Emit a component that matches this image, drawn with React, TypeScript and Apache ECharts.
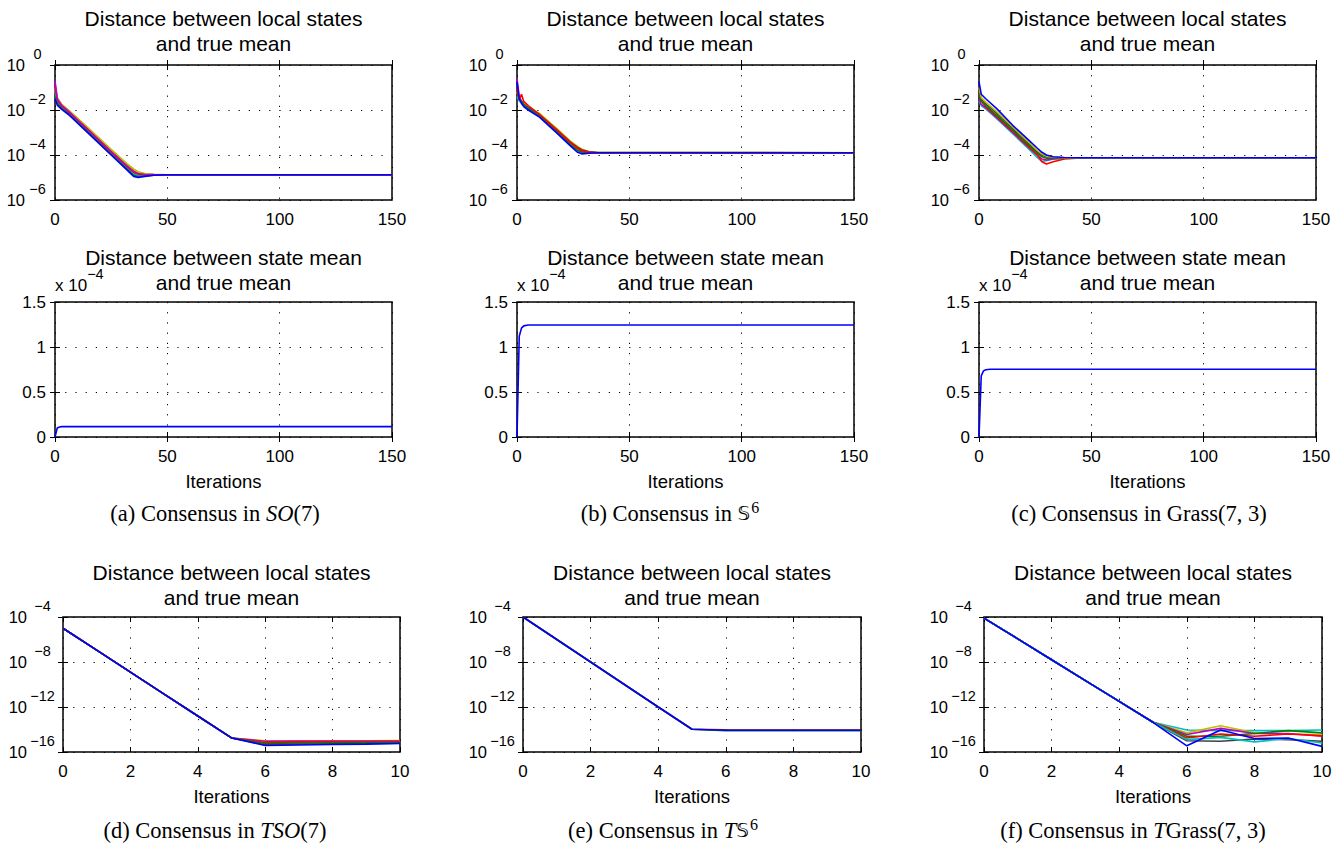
import React, { useEffect, useRef } from "react";
import * as echarts from "echarts";

const W = 1342;
const H = 843;
const SANS = '"Liberation Sans", Arial, Helvetica, sans-serif';
const SERIF = '"Liberation Serif", "Times New Roman", serif';
const BB = '"DejaVu Sans", "DejaVu Serif", "Noto Sans", sans-serif';

// MATLAB default line colours
const COL: Record<string, string> = {
  b: "#0000ff", g: "#008000", r: "#ff0000", c: "#00bfbf",
  m: "#bf00bf", y: "#bfbf00", k: "#404040",
};

// Titles / labels
const TITLE_LOCAL = "Distance between local states\nand true mean";
const TITLE_MEAN = "Distance between state mean\nand true mean";
const X_NAME = "Iterations";

// Axis ranges [min, max, step]
const X_LONG = [0, 150, 50];
const X_SHORT = [0, 10, 2];
const Y_TOP_LOG = [-6, 0, 2]; // exponents of 10
const Y_MID = [0, 1.5, 0.5]; // x 10^-4
const Y_BOT_LOG = [-16, -4, 4]; // exponents of 10

// ---------- (a) SO(7): log10 distance of local states ----------
const ITER_A = [0, 1, 3, 6, 15, 25, 32, 35, 37, 40, 44, 50, 150];
const COLORS_A = ["y", "m", "y", "k", "c", "r", "g", "m", "b"];
const LOCAL_A = [
  [-1.1, -1.5, -1.75, -2.0, -2.82, -3.75, -4.38, -4.62, -4.74, -4.82, -4.86, -4.88, -4.88],
  [-0.7, -1.45, -1.78, -2.03, -2.87, -3.82, -4.46, -4.7, -4.8, -4.85, -4.87, -4.88, -4.88],
  [-1.0, -1.48, -1.76, -2.01, -2.84, -3.78, -4.42, -4.66, -4.77, -4.84, -4.87, -4.88, -4.88],
  [-1.3, -1.6, -1.85, -2.1, -2.95, -3.9, -4.55, -4.8, -4.88, -4.9, -4.89, -4.88, -4.88],
  [-1.2, -1.62, -1.88, -2.12, -2.97, -3.93, -4.58, -4.84, -4.9, -4.9, -4.89, -4.88, -4.88],
  [-0.95, -1.55, -1.82, -2.08, -2.92, -3.87, -4.5, -4.76, -4.85, -4.88, -4.88, -4.88, -4.88],
  [-1.4, -1.7, -1.93, -2.17, -3.02, -3.97, -4.62, -4.9, -4.96, -4.93, -4.9, -4.88, -4.88],
  [-0.85, -1.52, -1.8, -2.06, -2.9, -3.85, -4.48, -4.73, -4.83, -4.87, -4.88, -4.88, -4.88],
  [-1.5, -1.78, -1.97, -2.2, -3.05, -4.0, -4.66, -4.95, -5.0, -4.95, -4.9, -4.88, -4.88],
];

// ---------- (b) S^6 ----------
const ITER_B = [0, 1, 2, 3, 5, 10, 18, 24, 27, 29, 32, 36, 150];
const COLORS_B = ["y", "k", "m", "c", "g", "r", "b"];
const LOCAL_B = [
  [-1.2, -1.5, -1.6, -1.7, -1.85, -2.15, -2.85, -3.4, -3.62, -3.75, -3.85, -3.89, -3.9],
  [-1.3, -1.55, -1.65, -1.75, -1.9, -2.2, -2.9, -3.45, -3.66, -3.78, -3.86, -3.89, -3.9],
  [-0.6, -1.4, -1.6, -1.75, -1.95, -2.25, -2.95, -3.5, -3.72, -3.83, -3.88, -3.9, -3.9],
  [-1.4, -1.6, -1.7, -1.8, -1.97, -2.27, -2.98, -3.53, -3.76, -3.85, -3.89, -3.9, -3.9],
  [-1.1, -1.5, -1.62, -1.78, -1.95, -2.28, -3.0, -3.56, -3.8, -3.88, -3.9, -3.9, -3.9],
  [-1.05, -1.55, -1.3, -1.62, -1.8, -2.2, -2.92, -3.47, -3.7, -3.82, -3.88, -3.9, -3.9],
  [-0.75, -1.5, -1.7, -1.85, -2.0, -2.32, -3.05, -3.62, -3.88, -3.95, -3.92, -3.9, -3.9],
];

// ---------- (c) Grass(7,3) ----------
const ITER_C = [0, 1, 3, 8, 15, 22, 26, 28, 30, 33, 38, 45, 150];
const COLORS_C = ["c", "m", "r", "g", "k", "y", "b"];
const LOCAL_C = [
  [-1.6, -1.8, -1.95, -2.4, -3.05, -3.72, -4.12, -4.28, -4.25, -4.18, -4.14, -4.12, -4.12],
  [-1.5, -1.75, -1.9, -2.35, -3.0, -3.65, -4.02, -4.18, -4.22, -4.18, -4.14, -4.12, -4.12],
  [-1.2, -1.6, -1.85, -2.3, -2.95, -3.62, -4.0, -4.3, -4.4, -4.3, -4.18, -4.13, -4.12],
  [-1.3, -1.6, -1.8, -2.25, -2.9, -3.55, -3.92, -4.08, -4.14, -4.14, -4.13, -4.12, -4.12],
  [-1.1, -1.5, -1.72, -2.15, -2.82, -3.47, -3.85, -4.0, -4.08, -4.11, -4.12, -4.12, -4.12],
  [-1.0, -1.45, -1.65, -2.08, -2.75, -3.42, -3.8, -3.96, -4.05, -4.1, -4.12, -4.12, -4.12],
  [-0.74, -1.3, -1.5, -1.95, -2.68, -3.33, -3.7, -3.88, -4.0, -4.08, -4.11, -4.12, -4.12],
];

// ---------- middle row: state mean vs true mean (x 10^-4) ----------
const ITER_MID = [0, 1, 2, 3, 5, 150];
const MEAN_A = [0, 0.1, 0.112, 0.115, 0.115, 0.115];
const MEAN_B = [0, 1.12, 1.21, 1.235, 1.245, 1.245];
const MEAN_C = [0, 0.68, 0.735, 0.748, 0.752, 0.752];

// ---------- bottom row (tangent bundles), log10 distance ----------
const ITER_T = [0, 1, 2, 3, 4, 5, 6, 7, 8, 9, 10];
const COLORS_D = ["y", "m", "r", "g", "k", "b"];
const LOCAL_D = [
  [-5.0, -6.95, -8.9, -10.85, -12.8, -14.75, -15.0, -15.0, -15.0, -15.0, -14.98],
  [-5.0, -6.95, -8.9, -10.85, -12.8, -14.75, -15.05, -15.03, -15.03, -15.03, -15.02],
  [-5.0, -6.95, -8.9, -10.85, -12.8, -14.75, -15.15, -15.12, -15.1, -15.1, -15.08],
  [-5.0, -6.95, -8.9, -10.85, -12.8, -14.75, -15.25, -15.2, -15.18, -15.16, -15.15],
  [-5.0, -6.95, -8.9, -10.85, -12.8, -14.75, -15.35, -15.3, -15.27, -15.25, -15.22],
  [-5.0, -6.95, -8.9, -10.85, -12.8, -14.75, -15.42, -15.38, -15.34, -15.3, -15.25],
];
const COLORS_E = ["r", "g", "b"];
const LOCAL_E = [
  [-4.0, -6.0, -8.0, -10.0, -12.0, -13.98, -14.02, -14.04, -14.04, -14.04, -14.04],
  [-4.0, -6.0, -8.0, -10.0, -12.0, -13.98, -14.1, -14.1, -14.1, -14.1, -14.1],
  [-4.0, -6.0, -8.0, -10.0, -12.0, -13.98, -14.07, -14.07, -14.07, -14.07, -14.07],
];
const COLORS_F = ["c", "y", "m", "g", "r", "k", "c", "b"];
const LOCAL_F = [
  [-4.1, -5.95, -7.8, -9.65, -11.5, -13.36, -14.05, -14.1, -14.1, -14.1, -14.05],
  [-4.1, -5.95, -7.8, -9.65, -11.5, -13.36, -14.3, -13.66, -14.3, -14.4, -14.45],
  [-4.1, -5.95, -7.8, -9.65, -11.5, -13.36, -14.45, -13.9, -14.35, -14.35, -14.6],
  [-4.1, -5.95, -7.8, -9.65, -11.5, -13.36, -14.6, -14.6, -14.35, -14.1, -14.3],
  [-4.1, -5.95, -7.8, -9.65, -11.5, -13.36, -14.75, -14.4, -14.6, -14.4, -14.55],
  [-4.1, -5.95, -7.8, -9.65, -11.5, -13.36, -15.0, -15.05, -14.85, -14.9, -15.05],
  [-4.1, -5.95, -7.8, -9.65, -11.5, -13.36, -14.9, -14.7, -15.1, -14.8, -15.2],
  [-4.1, -5.95, -7.8, -9.65, -11.5, -13.36, -15.45, -14.05, -14.8, -14.75, -15.5],
];

// Captions
const CAPTIONS: [string, string][][] = [
  [["r", "(a) Consensus in "], ["i", "SO"], ["r", "(7)"]],
  [["r", "(b) Consensus in "], ["bb", "𝕊"], ["sup", "6"]],
  [["r", "(c) Consensus in Grass(7, 3)"]],
  [["r", "(d) Consensus in "], ["i", "TSO"], ["r", "(7)"]],
  [["r", "(e) Consensus in "], ["i", "T"], ["bb", "𝕊"], ["sup", "6"]],
  [["r", "(f) Consensus in "], ["i", "T"], ["r", "Grass(7, 3)"]],
];

// layout: [left, top, width]
const POS: [number, number, number][] = [
  [55, 65, 337], [517, 65, 337], [979, 65, 337],
  [55, 302, 337], [517, 302, 337], [979, 302, 337],
  [63, 617, 337], [523, 617, 338], [984, 617, 338],
];
const PLOT_H = 135;
const CAPTION_POS: [number, number][] = [
  [215, 513], [670, 513], [1139, 513],
  [215, 830], [663, 830], [1133, 830],
];

type Panel = { iters: number[]; lines: number[][]; colors: string[] };
const PANELS: Panel[] = [
  { iters: ITER_A, lines: LOCAL_A, colors: COLORS_A },
  { iters: ITER_B, lines: LOCAL_B, colors: COLORS_B },
  { iters: ITER_C, lines: LOCAL_C, colors: COLORS_C },
  { iters: ITER_MID, lines: [MEAN_A], colors: ["b"] },
  { iters: ITER_MID, lines: [MEAN_B], colors: ["b"] },
  { iters: ITER_MID, lines: [MEAN_C], colors: ["b"] },
  { iters: ITER_T, lines: LOCAL_D, colors: COLORS_D },
  { iters: ITER_T, lines: LOCAL_E, colors: COLORS_E },
  { iters: ITER_T, lines: LOCAL_F, colors: COLORS_F },
];

const logLabel = (v: number) =>
  `{b|10}{s|${v === 0 ? "0" : "\u2212" + Math.abs(Math.round(v))}}`;

function buildOption() {
  const grid: any[] = [];
  const xAxis: any[] = [];
  const yAxis: any[] = [];
  const title: any[] = [];
  const series: any[] = [];
  const tick = { inside: true, length: 5, lineStyle: { color: "#000", width: 1 } };
  const dotted = { show: true, lineStyle: { color: "#000", width: 1, type: [1.2, 9] } };

  POS.forEach(([left, top, width], g) => {
    const row = Math.floor(g / 3);
    grid.push({ left, top, width, height: PLOT_H, show: true, borderColor: "#000", borderWidth: 1.5, backgroundColor: "#fff" });
    const xr = row === 2 ? X_SHORT : X_LONG;
    const yr = row === 0 ? Y_TOP_LOG : row === 1 ? Y_MID : Y_BOT_LOG;
    xAxis.push({
      type: "value", gridIndex: g, min: xr[0], max: xr[1], interval: xr[2],
      axisLine: { show: false }, axisTick: tick,
      axisLabel: { margin: 11, fontSize: 17, color: "#000", fontFamily: SANS },
      splitLine: dotted,
      name: row > 0 ? X_NAME : "", nameLocation: "middle", nameGap: 35,
      nameTextStyle: { fontSize: 18.5, color: "#000", fontFamily: SANS },
    });
    xAxis.push({
      type: "value", gridIndex: g, position: "top", min: xr[0], max: xr[1], interval: xr[2],
      axisLine: { show: false }, axisTick: tick, axisLabel: { show: false }, splitLine: { show: false },
    });
    const isLog = row !== 1;
    const supW = row === 0 ? 25 : 31;
    yAxis.push({
      type: "value", gridIndex: g, min: yr[0], max: yr[1], interval: yr[2],
      axisLine: { show: false }, axisTick: tick, splitLine: dotted,
      axisLabel: isLog
        ? {
            margin: 5, formatter: logLabel,
            rich: {
              b: { fontSize: 16.5, fontFamily: SANS, color: "#000" },
              s: { fontSize: 14.5, fontFamily: SANS, color: "#000", width: supW, align: "left", padding: [0, 0, 22, 0] },
            },
          }
        : { margin: 9, fontSize: 17, color: "#000", fontFamily: SANS },
    });
    yAxis.push({
      type: "value", gridIndex: g, position: "right", min: yr[0], max: yr[1], interval: yr[2],
      axisLine: { show: false }, axisTick: tick, axisLabel: { show: false }, splitLine: { show: false },
    });
    title.push({
      text: row === 1 ? TITLE_MEAN : TITLE_LOCAL,
      left: left + width / 2, top: row === 0 ? 5.5 : row === 1 ? 244.5 : 559.5,
      textAlign: "center", padding: 0,
      textStyle: { fontSize: 21, fontWeight: "normal", color: "#000", lineHeight: 25, fontFamily: SANS },
    });
    const p = PANELS[g];
    p.lines.forEach((vals, k) => {
      const c = COL[p.colors[k]];
      series.push({
        type: "line", xAxisIndex: 2 * g, yAxisIndex: 2 * g,
        data: p.iters.map((x, i) => [x, vals[i]]),
        showSymbol: false, symbol: "none", silent: true,
        lineStyle: { color: c, width: 1.6 }, itemStyle: { color: c },
      });
    });
  });

  const rich = {
    r: { fontFamily: SERIF, fontSize: 22.5, fill: "#000", color: "#000" },
    i: { fontFamily: SERIF, fontSize: 22.5, fontStyle: "italic", fill: "#000", color: "#000" },
    bb: { fontFamily: BB, fontSize: 20, fill: "#000", color: "#000" },
    sup: { fontFamily: SERIF, fontSize: 16, fill: "#000", color: "#000", padding: [0, 0, 12, 1] },
  };
  const graphic: any[] = CAPTIONS.map((parts, i) => ({
    type: "text", x: CAPTION_POS[i][0], y: CAPTION_POS[i][1], silent: true,
    style: {
      text: parts.map(([k, t]) => `{${k}|${t}}`).join(""),
      rich, align: "center", verticalAlign: "middle", fill: "#000",
    },
  }));
  [3, 4, 5].forEach((g) => {
    graphic.push({
      type: "text", x: POS[g][0], y: 285, silent: true,
      style: {
        text: "{b|x 10}{s|\u22124}",
        rich: {
          b: { fontFamily: SANS, fontSize: 17, fill: "#000" },
          s: { fontFamily: SANS, fontSize: 14.5, fill: "#000", padding: [0, 0, 22, 0] },
        },
        align: "left", verticalAlign: "middle",
      },
    });
  });

  return { animation: false, backgroundColor: "#fff", grid, xAxis, yAxis, title, series, graphic };
}

export default function App() {
  const ref = useRef<HTMLDivElement>(null);
  useEffect(() => {
    const chart = echarts.init(ref.current!, null, { renderer: "svg", width: W, height: H });
    chart.setOption(buildOption() as any);
    return () => chart.dispose();
  }, []);
  return (
    <div
      ref={ref}
      style={{ position: "fixed", left: 0, top: 0, width: W, height: H, background: "#fff" }}
    />
  );
}
